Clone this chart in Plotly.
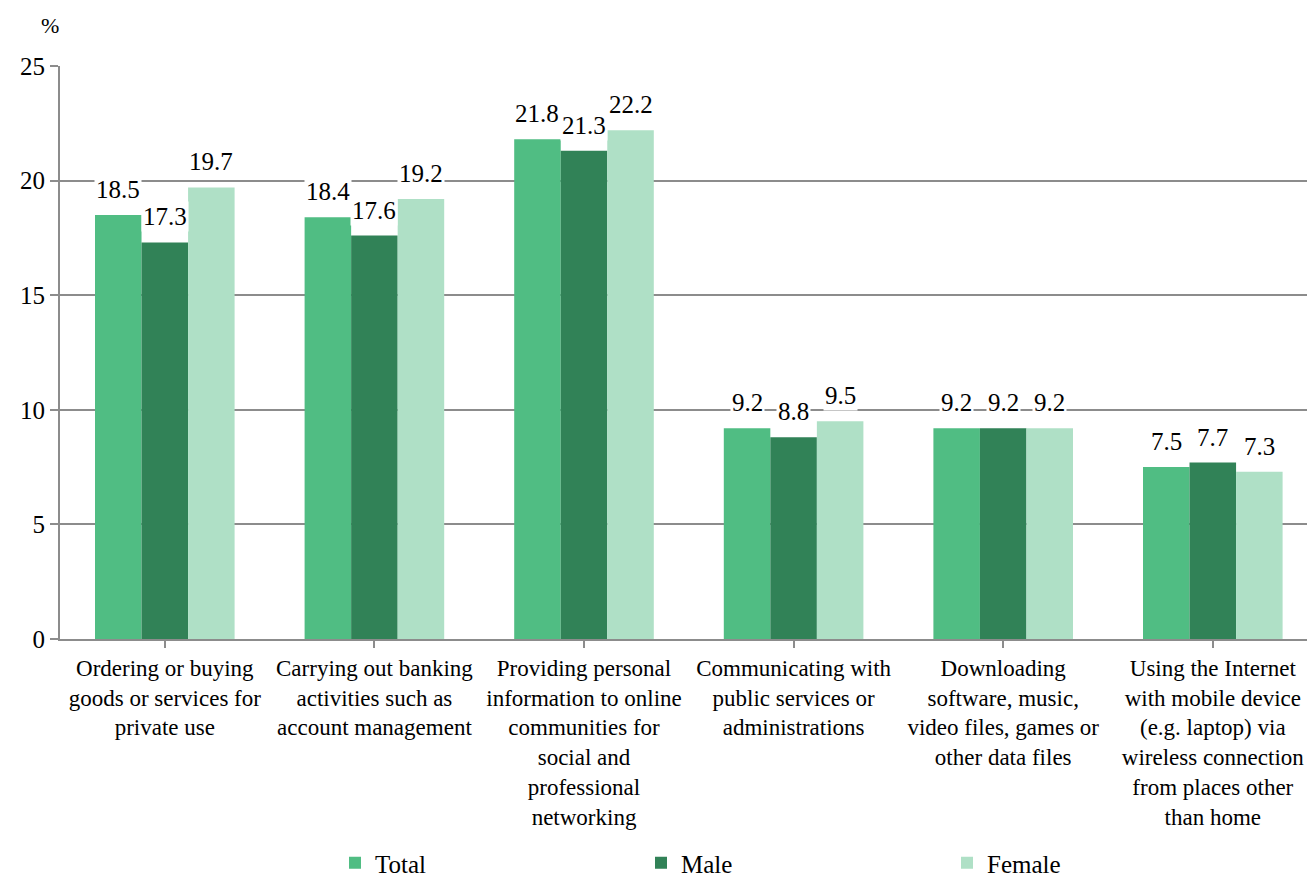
import plotly.graph_objects as go

categories = [
    "Ordering or buying<br>goods or services for<br>private use",
    "Carrying out banking<br>activities such as<br>account management",
    "Providing personal<br>information to online<br>communities for<br>social and<br>professional<br>networking",
    "Communicating with<br>public services or<br>administrations",
    "Downloading<br>software, music,<br>video files, games or<br>other data files",
    "Using the Internet<br>with mobile device<br>(e.g. laptop) via<br>wireless connection<br>from places other<br>than home",
]
total = [18.5, 18.4, 21.8, 9.2, 9.2, 7.5]
male = [17.3, 17.6, 21.3, 8.8, 9.2, 7.7]
female = [19.7, 19.2, 22.2, 9.5, 9.2, 7.3]
series_names = ["Total", "Male", "Female"]
series_colors = ["#50BD83", "#318257", "#AFE0C6"]
y_ticks = [0, 5, 10, 15, 20, 25]

FONT = '"Times New Roman", "Liberation Serif", "DejaVu Serif", serif'
GRID = "#8c8c8c"

W, H = 1307, 881
ML, MR, MT, MB = 60, 0, 66, 242
cat_px = 209.6
plot_w = W - ML - MR
plot_h = H - MT - MB
x_hi = -0.5 + plot_w / cat_px

fig = go.Figure()
series = [total, male, female]
for name, vals, col in zip(series_names, series, series_colors):
    fig.add_trace(go.Bar(
        name=name, x=list(range(len(categories))), y=vals,
        marker=dict(color=col, line=dict(width=0)),
    ))

# value labels with white background (breaking gridlines)
bar_w_px = cat_px * (1 - 0.334) / 3
offsets = [-bar_w_px, 0, bar_w_px]
for vals, off in zip(series, offsets):
    for i, v in enumerate(vals):
        fig.add_annotation(
            x=i, y=v, xref="x", yref="y", text=f"{v:.1f}",
            showarrow=False, xshift=off, yshift=10, yanchor="bottom",
            font=dict(family=FONT, size=25, color="black"),
            bgcolor="white", borderpad=1,
        )

fig.add_annotation(
    x=(50 - ML) / plot_w, y=(H - MB - 25) / plot_h,
    xref="paper", yref="paper", text="%", showarrow=False,
    xanchor="center", yanchor="middle",
    font=dict(family=FONT, size=22, color="black"),
)

fig.update_layout(
    width=W, height=H,
    margin=dict(l=ML, r=MR, t=MT, b=MB, autoexpand=False),
    paper_bgcolor="white", plot_bgcolor="white",
    barmode="group", bargap=0.334, bargroupgap=0,
    font=dict(family=FONT, color="black"),
    legend=dict(
        orientation="h", x=(335 - ML) / plot_w, xanchor="left",
        y=-(886 - (H - MB)) / plot_h, yanchor="bottom",
        font=dict(family=FONT, size=25, color="black"),
        entrywidth=261, entrywidthmode="pixels",
        itemwidth=30, tracegroupgap=0,
    ),
    showlegend=True,
)
fig.update_xaxes(
    range=[-0.5, x_hi],
    tickmode="array", tickvals=list(range(len(categories))), ticktext=categories,
    tickson="boundaries", ticks="outside", ticklen=7, tickcolor=GRID, tickwidth=2,
    showline=True, linecolor=GRID, linewidth=2,
    showgrid=False, zeroline=False,
    tickfont=dict(family=FONT, size=23, color="black"),
    tickangle=0,
)
fig.update_yaxes(
    range=[0, 25], tickmode="array", tickvals=y_ticks,
    ticks="outside", ticklen=8, tickcolor=GRID, tickwidth=2,
    showline=True, linecolor=GRID, linewidth=2,
    showgrid=True, gridcolor=GRID, gridwidth=2, zeroline=False,
    tickfont=dict(family=FONT, size=25, color="black"),
)

fig.write_html("out.html")
